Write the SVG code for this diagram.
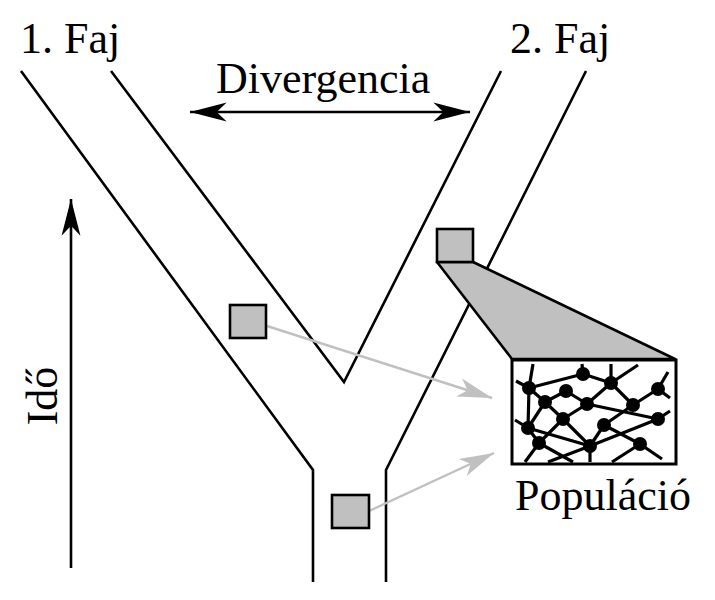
<svg xmlns="http://www.w3.org/2000/svg" width="715" height="600" viewBox="0 0 715 600">
<defs>
<style>
text{font-family:'Liberation Serif','Times New Roman',Times,serif;font-size:44px;fill:#000}
.ln{fill:none;stroke:#000;stroke-width:2.6;stroke-linejoin:miter}
.sq{fill:#c0c0c0;stroke:#000;stroke-width:2.6}
.ga{fill:none;stroke:#c0c0c0;stroke-width:2.4}
.net line{stroke:#000;stroke-width:3.2}
.net circle{fill:#000}
</style>
<marker id="ah" markerUnits="userSpaceOnUse" markerWidth="40" markerHeight="24" viewBox="-34 -10 36 20" refX="0" refY="0" orient="auto-start-reverse">
<path d="M0,0 L-33,-8.5 L-24,0 L-33,8.5 Z" fill="#000"/>
</marker>
<marker id="gh" markerUnits="userSpaceOnUse" markerWidth="40" markerHeight="24" viewBox="-34 -10 36 20" refX="0" refY="0" orient="auto">
<path d="M0,0 L-31,-8.5 L-23,0 L-31,8.5 Z" fill="#c0c0c0"/>
</marker>
</defs>
<rect width="715" height="600" fill="#fff"/>

<g id="branches">
<polyline class="ln" points="21,71 313,470 313,582"/>
<polyline class="ln" points="111,71 344,382 501,71"/>
<polyline class="ln" points="586,71 386,470 386,582"/>
</g>

<g id="labels" font-family="Liberation Serif, Times New Roman, serif" font-size="44">
<text x="20" y="53">1. Faj</text>
<text x="510" y="53">2. Faj</text>
<text x="216" y="93">Divergencia</text>
<text x="515" y="510">Populáció</text>
<text text-anchor="middle" transform="translate(57,396) rotate(-90)">Idő</text>
</g>

<g id="connectors">
<line x1="190" y1="112" x2="470" y2="112" stroke="#000" stroke-width="2.6" marker-end="url(#ah)" marker-start="url(#ah)"/>
<line x1="71" y1="568" x2="71" y2="199" stroke="#000" stroke-width="2.6" marker-end="url(#ah)"/>
<line class="ga" x1="267" y1="326" x2="492" y2="398" marker-end="url(#gh)"/>
<line class="ga" x1="369" y1="511" x2="494" y2="453" marker-end="url(#gh)"/>
</g>

<g id="sample1"><rect class="sq" x="230" y="305" width="36" height="33"/></g>
<g id="sample2"><rect class="sq" x="332" y="495" width="37" height="33"/></g>
<g id="sample3">
<polygon points="437,262 473,262 675,359 512,359" fill="#c0c0c0" stroke="#000" stroke-width="2.6" stroke-linejoin="round"/>
<rect class="sq" x="437" y="229" width="36" height="33"/>
</g>

<g id="population">
<rect x="512" y="360" width="164" height="104" fill="#fff" stroke="#000" stroke-width="3"/>
<g class="net">
<line x1="529" y1="388" x2="533" y2="364"/>
<line x1="529" y1="388" x2="516" y2="381"/>
<line x1="529" y1="388" x2="583" y2="374"/>
<line x1="529" y1="388" x2="545" y2="402"/>
<line x1="529" y1="388" x2="528" y2="428"/>
<line x1="583" y1="374" x2="582" y2="364"/>
<line x1="583" y1="374" x2="611" y2="383"/>
<line x1="611" y1="383" x2="611" y2="364"/>
<line x1="611" y1="383" x2="638" y2="365"/>
<line x1="611" y1="383" x2="587" y2="404"/>
<line x1="611" y1="383" x2="633" y2="405"/>
<line x1="658" y1="389" x2="668" y2="372"/>
<line x1="658" y1="389" x2="670" y2="398"/>
<line x1="658" y1="389" x2="633" y2="405"/>
<line x1="566" y1="391" x2="545" y2="402"/>
<line x1="566" y1="391" x2="587" y2="404"/>
<line x1="545" y1="402" x2="563" y2="419"/>
<line x1="545" y1="402" x2="528" y2="428"/>
<line x1="587" y1="404" x2="563" y2="419"/>
<line x1="587" y1="404" x2="658" y2="419"/>
<line x1="633" y1="405" x2="604" y2="425"/>
<line x1="563" y1="419" x2="539" y2="443"/>
<line x1="563" y1="419" x2="590" y2="446"/>
<line x1="528" y1="428" x2="515" y2="420"/>
<line x1="528" y1="428" x2="539" y2="443"/>
<line x1="528" y1="428" x2="590" y2="446"/>
<line x1="539" y1="443" x2="525" y2="462"/>
<line x1="539" y1="443" x2="573" y2="462"/>
<line x1="590" y1="446" x2="548" y2="462"/>
<line x1="590" y1="446" x2="590" y2="462"/>
<line x1="590" y1="446" x2="604" y2="425"/>
<line x1="590" y1="446" x2="658" y2="419"/>
<line x1="604" y1="425" x2="640" y2="444"/>
<line x1="640" y1="444" x2="612" y2="462"/>
<line x1="640" y1="444" x2="662" y2="459"/>
<line x1="658" y1="419" x2="670" y2="411"/>
<circle cx="529" cy="388" r="7"/>
<circle cx="583" cy="374" r="7"/>
<circle cx="611" cy="383" r="7"/>
<circle cx="658" cy="389" r="7"/>
<circle cx="566" cy="391" r="7"/>
<circle cx="545" cy="402" r="7"/>
<circle cx="587" cy="404" r="7"/>
<circle cx="633" cy="405" r="7"/>
<circle cx="563" cy="419" r="7"/>
<circle cx="658" cy="419" r="7"/>
<circle cx="604" cy="425" r="7"/>
<circle cx="528" cy="428" r="7"/>
<circle cx="539" cy="443" r="7"/>
<circle cx="590" cy="446" r="7"/>
<circle cx="640" cy="444" r="7"/>
</g>
</g>
</svg>
